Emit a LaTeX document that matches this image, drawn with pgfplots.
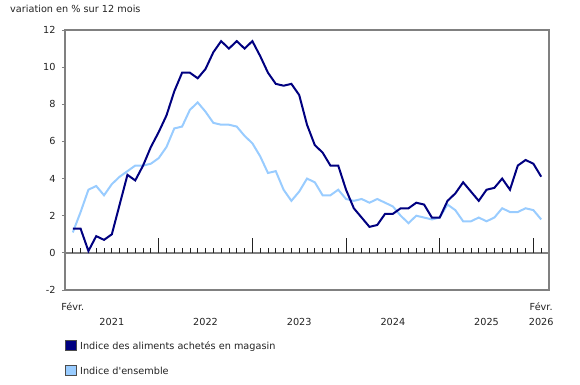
\documentclass[border=0pt]{standalone}
\usepackage{fontspec}
\setmainfont{DejaVu Sans}[Ligatures=TeXOff]
\usepackage{pgfplots}
\usepackage{pgfplotstable}
\pgfplotsset{compat=1.18}
\definecolor{darkser}{RGB}{0,0,128}
\definecolor{lightser}{RGB}{153,204,255}
\definecolor{spine}{RGB}{128,128,128}
\definecolor{txt}{RGB}{34,34,34}

\pgfplotstableread{
idx food all
0 1.3 1.1
1 1.3 2.2
2 0.1 3.4
3 0.9 3.6
4 0.7 3.1
5 1.0 3.7
6 2.6 4.1
7 4.2 4.4
8 3.9 4.7
9 4.7 4.7
10 5.7 4.8
11 6.5 5.1
12 7.4 5.7
13 8.7 6.7
14 9.7 6.8
15 9.7 7.7
16 9.4 8.1
17 9.9 7.6
18 10.8 7.0
19 11.4 6.9
20 11.0 6.9
21 11.4 6.8
22 11.0 6.3
23 11.4 5.9
24 10.6 5.2
25 9.7 4.3
26 9.1 4.4
27 9.0 3.4
28 9.1 2.8
29 8.5 3.3
30 6.9 4.0
31 5.8 3.8
32 5.4 3.1
33 4.7 3.1
34 4.7 3.4
35 3.4 2.9
36 2.4 2.8
37 1.9 2.9
38 1.4 2.7
39 1.5 2.9
40 2.1 2.7
41 2.1 2.5
42 2.4 2.0
43 2.4 1.6
44 2.7 2.0
45 2.6 1.9
46 1.9 1.8
47 1.9 1.9
48 2.8 2.6
49 3.2 2.3
50 3.8 1.7
51 3.3 1.7
52 2.8 1.9
53 3.4 1.7
54 3.5 1.9
55 4.0 2.4
56 3.4 2.2
57 4.7 2.2
58 5.0 2.4
59 4.8 2.3
60 4.1 1.8
}\data

\begin{document}
\fontsize{9.7bp}{11bp}\selectfont
\begin{tikzpicture}
\path[use as bounding box] (-65bp,-95bp) rectangle (515bp,290bp);
\begin{axis}[
  at={(0,0)}, anchor=south west,
  scale only axis, width=484bp, height=260bp,
  xmin=-1, xmax=61, ymin=-2, ymax=12,
  ytick={-2,0,2,4,6,8,10,12},
  xtick=\empty,
  axis line style={spine, line width=1.3bp},
  ytick style={spine, line width=0.8bp},
  major tick length=3bp,
  tick align=outside,
  tick pos=left,
  yticklabel style={font=\fontsize{9.7bp}{11bp}\selectfont, text=txt, xshift=-3bp},
  /pgf/number format/assume math mode=true,
  clip=false,
]
\draw[spine, line width=1.3bp] (axis cs:-1,0) -- (axis cs:61,0);
\pgfplotsinvokeforeach{0,...,60}{
  \draw[txt, line width=0.8bp] (axis cs:#1,0) -- ([yshift=5bp]axis cs:#1,0);
}
\pgfplotsinvokeforeach{11,23,35,47,59}{
  \draw[txt, line width=0.8bp] (axis cs:#1,0) -- ([yshift=15bp]axis cs:#1,0);
}
\addplot[lightser, line width=2bp, no marks] table[x=idx, y=all] {\data};
\addplot[darkser, line width=2bp, no marks] table[x=idx, y=food] {\data};

\node[anchor=base, text=txt, inner sep=0] at ([yshift=-20bp]axis cs:0,-2) {Févr.};
\node[anchor=base, text=txt, inner sep=0] at ([yshift=-35bp]axis cs:5,-2) {2021};
\node[anchor=base, text=txt, inner sep=0] at ([yshift=-35bp]axis cs:17,-2) {2022};
\node[anchor=base, text=txt, inner sep=0] at ([yshift=-35bp]axis cs:29,-2) {2023};
\node[anchor=base, text=txt, inner sep=0] at ([yshift=-35bp]axis cs:41,-2) {2024};
\node[anchor=base, text=txt, inner sep=0] at ([yshift=-35bp]axis cs:53,-2) {2025};
\node[anchor=base, text=txt, inner sep=0] at ([yshift=-20bp]axis cs:60,-2) {Févr.};
\node[anchor=base, text=txt, inner sep=0] at ([yshift=-35bp]axis cs:60,-2) {2026};
\end{axis}
\node[anchor=base west, text=txt, inner sep=0] at (-55bp,277bp) {variation en \% sur 12 mois};
\draw[draw=black!70, line width=0.6bp, fill=darkser] (0,-60bp) rectangle (11bp,-50bp);
\node[anchor=base west, text=txt, inner sep=0] at (15bp,-59bp) {Indice des aliments achetés en magasin};
\draw[draw=black!70, line width=0.6bp, fill=lightser] (0,-85bp) rectangle (11bp,-75bp);
\node[anchor=base west, text=txt, inner sep=0] at (15bp,-84bp) {Indice d'ensemble};
\end{tikzpicture}
\end{document}
